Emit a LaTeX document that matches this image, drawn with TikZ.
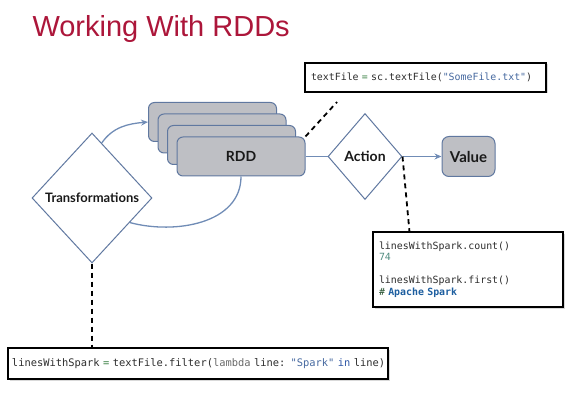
\documentclass[tikz,border=0pt]{standalone}
\usepackage{fontspec}
\setmainfont{Liberation Sans}
\setmonofont{DejaVu Sans Mono}
\newfontfamily\labelfont{Lato}
\usetikzlibrary{arrows.meta,shapes.geometric,shadows}
\definecolor{titlered}{RGB}{172,22,58}
\definecolor{rddfill}{RGB}{190,191,196}
\definecolor{rddline}{RGB}{96,120,160}
\definecolor{flowline}{RGB}{112,140,182}
\definecolor{codetext}{RGB}{45,45,45}
\definecolor{codeop}{RGB}{60,130,70}
\definecolor{codestr}{RGB}{70,105,160}
\definecolor{codekey}{RGB}{45,85,165}
\definecolor{codegray}{RGB}{105,105,105}
\definecolor{codenum}{RGB}{80,140,128}
\definecolor{codecomment}{RGB}{30,75,40}
\definecolor{codeout}{RGB}{30,95,160}
\begin{document}
\begin{tikzpicture}[x=1pt, y=1pt, text centered, line width=1pt, >={Stealth[length=7pt,width=6pt]},
	rddbox/.style={draw=rddline, fill=rddfill, rounded corners=6pt, minimum width=128pt, minimum height=39pt, text=black!90, font=\labelfont\bfseries\fontsize{14}{16}\selectfont},
	choice/.style={draw=rddline, fill=white, diamond, inner sep=3pt, text=black!90, font=\labelfont\bfseries\fontsize{13}{15}\selectfont},
	codebox/.style={draw=black, line width=1.1pt, fill=white, align=left, inner xsep=6pt, font=\ttfamily\fontsize{9.9}{11.3}\selectfont\color{codetext}, drop shadow={opacity=0.3, shadow xshift=1.5pt, shadow yshift=-1.5pt}},
	flow/.style={draw=flowline, line width=1.3pt},
	linkline/.style={draw=black, line width=1.8pt, dash pattern=on 5pt off 4pt}]
	\useasboundingbox (0,0) rectangle (580,402);
	\node[anchor=base west, inner sep=0pt, text=titlered, font=\fontsize{29}{34}\selectfont] (title) at (32,365) {Working With RDDs};
	\node[rddbox] (rddA) at (212.5,280) {};
	\node[rddbox] (rddB) at (222,268.5) {};
	\node[rddbox] (rddC) at (231.5,257) {};
	\node[rddbox] (rdd) at (241,245.5) {RDD};
	\node[choice, minimum width=74pt, minimum height=86pt, font=\labelfont\bfseries\fontsize{14}{16}\selectfont] (action) at (365,245.5) {Action};
	\node[rddbox, minimum width=53pt, minimum height=40pt, rounded corners=7pt, font=\labelfont\bfseries\fontsize{15}{17}\selectfont] (value) at (468.5,245.5) {Value};
	\node[choice, minimum width=120pt, minimum height=130pt] (transformations) at (92,204) {Transformations};
	\node[codebox, text width=229pt, minimum height=29pt] (textFileCode) at (425.5,324.5) {\mbox{textFile {\color{codeop}=} sc.textFile({\color{codestr}"SomeFile.txt"})}};
	\node[codebox, text width=178pt, minimum height=75pt] (resultCode) at (468,132.5) {linesWithSpark.count()\\{\color{codenum}74}\\[12pt]linesWithSpark.first()\\{\color{codecomment}\#} {\color{codeout}\bfseries Apache Spark}};
	\node[codebox, text width=372pt, inner xsep=4pt, minimum height=31pt, font=\ttfamily\fontsize{10.4}{11}\selectfont\color{codetext}] (filterCode) at (198,38.5) {\mbox{linesWithSpark {\color{codeop}=} textFile.filter({\color{codegray}lambda} line: {\color{codestr}"Spark"} {\color{codekey}in} line)}};
	\coordinate (textFileLink) at (337,300);
	\draw[flow] (rdd.east) -- (action.west);
	\draw[flow, ->] (action.east) -- (value.west);
	\draw[flow, ->] (transformations.80) to[out=55, in=185] (rddA.west);
	\draw[flow] (rdd.south) to[out=-90, in=-15] (transformations.-33);
	\draw[linkline] (rdd.north east) -- (textFileLink);
	\draw[linkline] (action.east) -- ([xshift=37pt]resultCode.north west);
	\draw[linkline] (transformations.south) -- (transformations.south |- filterCode.north);
\end{tikzpicture}
\end{document}
